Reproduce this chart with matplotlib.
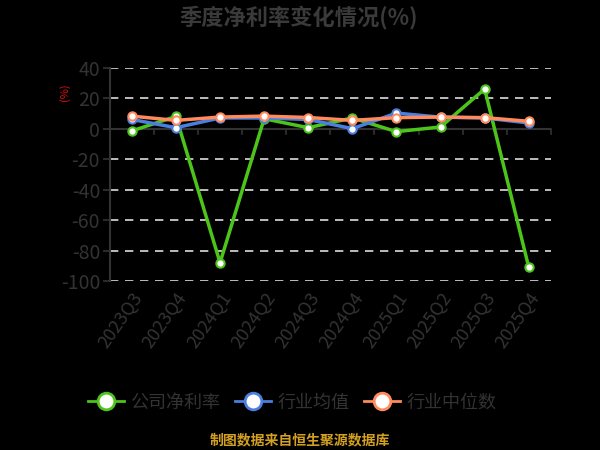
import matplotlib
matplotlib.use("Agg")
import matplotlib.pyplot as plt
from matplotlib.lines import Line2D

plt.rcParams['font.family'] = ['Noto Sans CJK SC', 'DejaVu Sans']

# data
quarters = ["2023Q3", "2023Q4", "2024Q1", "2024Q2", "2024Q3",
            "2024Q4", "2025Q1", "2025Q2", "2025Q3", "2025Q4"]
company = [-1.5, 8.0, -88.0, 6.5, 0.6, 7.0, -2.0, 1.1, 26.0, -91.0]
ind_mean = [6.0, 0.6, 7.0, 7.0, 6.0, 0.0, 10.2, 7.5, 7.0, 3.7]
ind_median = [8.2, 5.4, 7.6, 8.2, 7.3, 5.4, 7.2, 7.6, 7.2, 4.8]

series_names = ["公司净利率", "行业均值", "行业中位数"]
colors = ["#4cc41a", "#4a7fe0", "#ff8a5c"]
txt = "#333333"

fig = plt.figure(figsize=(6, 4.5), dpi=100, facecolor="black")
ax = fig.add_axes([0.183, 0.3756, 0.735, 0.474])
ax.set_facecolor("black")

x = list(range(len(quarters)))
for vals, c in zip([company, ind_mean, ind_median], colors):
    ax.plot(x, vals, color=c, lw=2.5, marker="o", ms=6,
            mfc="white", mec=c, mew=1.5, zorder=3)

ax.set_xlim(-0.5, len(quarters) - 0.5)
ax.set_ylim(-100, 40)
yt = [40, 20, 0, -20, -40, -60, -80, -100]
ax.set_yticks(yt)
ax.set_yticklabels([str(v) for v in yt], color=txt, fontsize=14)
for v in yt:
    if v != 0:
        ax.axhline(v, color="#dddddd", lw=1.2, ls=(0, (5, 4)), zorder=1)

# x axis sits on zero, labels stay at the bottom
ax.axhline(0, color=txt, lw=1.5, zorder=2)
for b in range(len(quarters) + 1):
    ax.plot([b - 0.5, b - 0.5], [0, -3.3], color=txt, lw=1.2, zorder=2,
            clip_on=False)
ax.set_xticks(x)
ax.set_xticklabels(quarters, rotation=55, ha="right", va="top",
                   rotation_mode="anchor", color=txt, fontsize=13)
ax.tick_params(axis="x", length=0, pad=6)
ax.tick_params(axis="y", length=5, color=txt, width=1.2, pad=2)

for s in ["top", "right", "bottom"]:
    ax.spines[s].set_visible(False)
ax.spines["left"].set_color(txt)
ax.spines["left"].set_linewidth(1.5)

fig.text(0.497, 0.962, "季度净利率变化情况(%)", ha="center", va="center",
         fontsize=16, fontweight="bold", color="#3a3a3a")
fig.text(0.108, 0.795, "(%)", rotation=90, ha="center", va="center",
         fontsize=8, color="#e01010")

handles = [Line2D([0], [0], color=c, lw=2, marker="o", ms=12,
                  mfc="white", mec=c, mew=2) for c in colors]
fig.legend(handles, series_names, loc="center", bbox_to_anchor=(0.487, 0.105),
           ncol=3, frameon=False, fontsize=13, labelcolor=txt,
           handlelength=2.0, columnspacing=0.8, handletextpad=0.35)

fig.text(0.5, 0.022, "制图数据来自恒生聚源数据库", ha="center", va="center",
         fontsize=10, fontweight="bold", color="#d4a020")

fig.savefig("out.png", dpi=100, facecolor="black")
